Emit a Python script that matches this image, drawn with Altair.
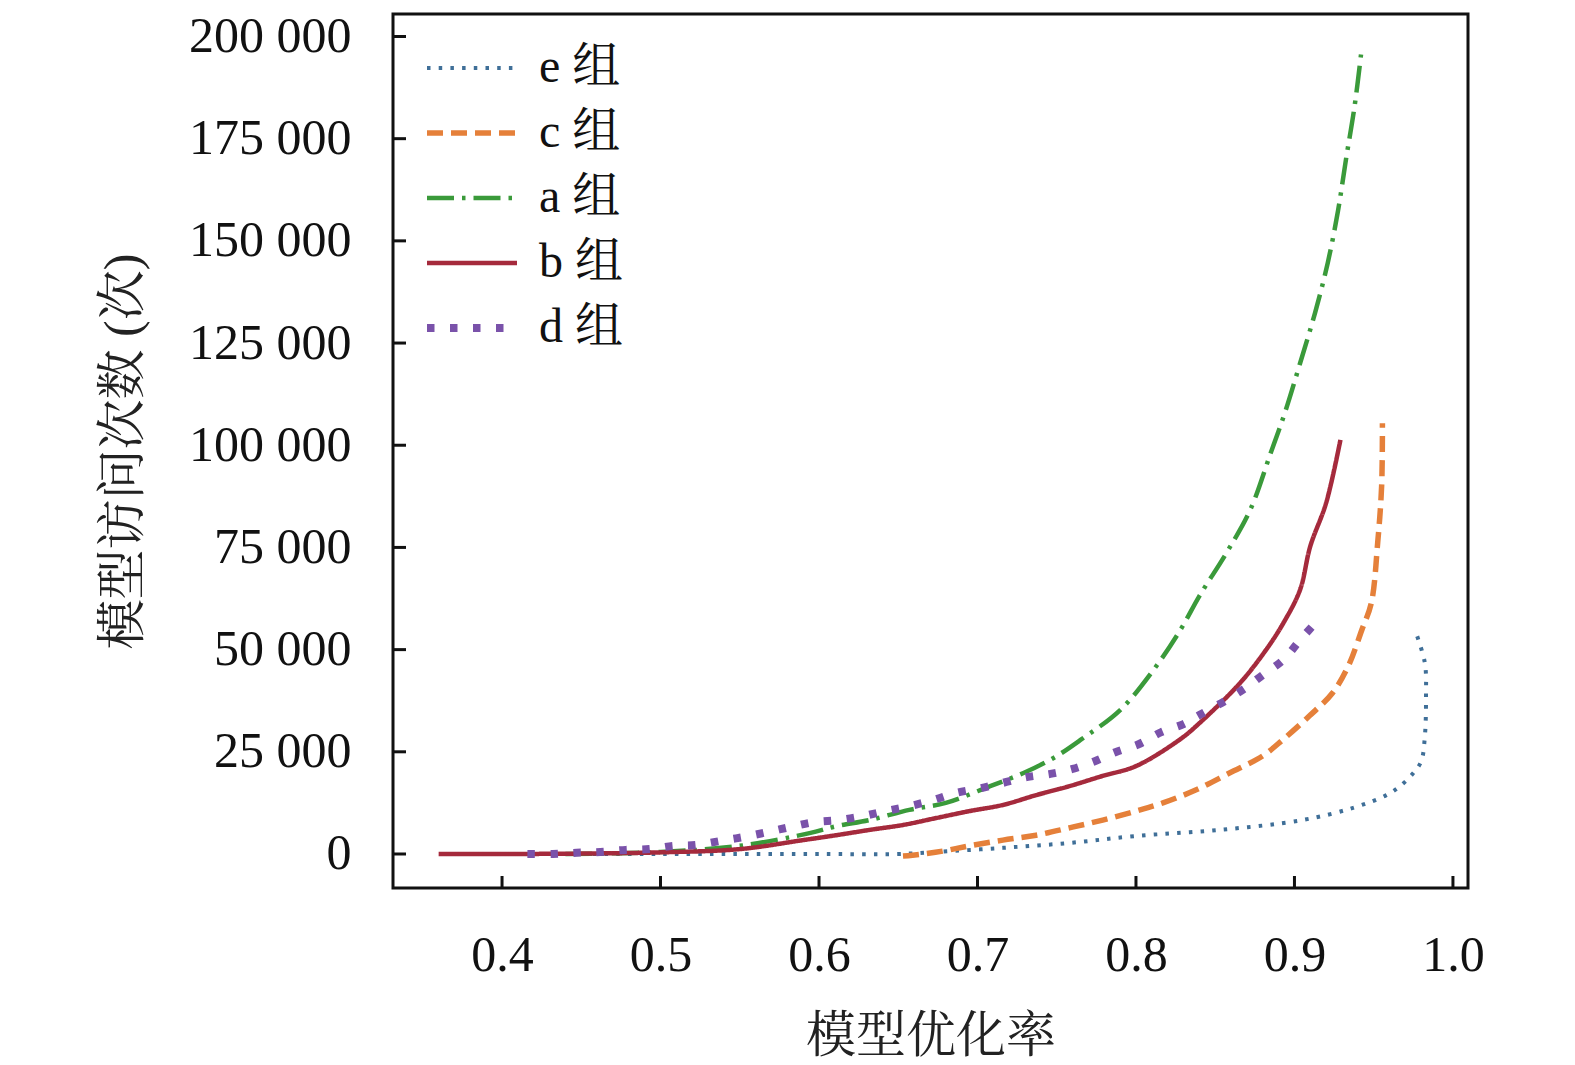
import altair as alt
import pandas as pd

groups = ["e 组", "c 组", "a 组", "b 组", "d 组"]
colors = ["#3f6f98", "#e5803a", "#3a9a3a", "#a52a3c", "#7a52aa"]
dashes = [[3.5, 8.2], [16, 8], [27, 8, 3.5, 8], [1, 0], [7.5, 15.5]]
widths = [4, 5.5, 4.5, 4.5, 8]

e_x = [0.45, 0.50, 0.55, 0.60, 0.65, 0.674, 0.716, 0.758, 0.800, 0.853, 0.905, 0.937, 0.958, 0.9666, 0.975, 0.980, 0.9823, 0.983, 0.9823, 0.9767]
e_y = [0, 0, 0, 0, 0, 500, 1500, 2700, 4400, 5900, 8300, 11300, 14400, 16600, 19800, 22700, 28900, 38600, 46700, 54100]

c_x = [0.653, 0.659, 0.678, 0.695, 0.716, 0.737, 0.758, 0.779, 0.800, 0.817, 0.838, 0.859, 0.880, 0.8925, 0.9095, 0.924, 0.934, 0.9425, 0.9485, 0.9525, 0.955, 0.9555]
c_y = [-500, -300, 700, 2000, 3400, 4600, 6400, 8300, 10500, 12500, 15700, 19800, 24000, 27900, 33800, 39400, 46000, 54800, 61400, 76100, 90000, 105400]

a_x = [0.44, 0.50, 0.55, 0.594, 0.611, 0.632, 0.657, 0.680, 0.708, 0.729, 0.748, 0.765, 0.790, 0.811, 0.828, 0.840, 0.857, 0.872, 0.885, 0.894, 0.9035, 0.913, 0.921, 0.9275, 0.9325, 0.938, 0.942]
a_y = [0, 500, 2000, 5100, 6800, 8300, 10800, 12500, 16600, 19800, 23500, 27900, 35200, 45000, 54800, 63100, 73600, 84100, 98100, 108000, 120000, 132400, 144600, 157400, 169900, 183100, 195600]

b_x = [0.36, 0.40, 0.45, 0.50, 0.55, 0.590, 0.611, 0.632, 0.653, 0.674, 0.695, 0.716, 0.737, 0.758, 0.779, 0.800, 0.828, 0.840, 0.8656, 0.882, 0.893, 0.9035, 0.910, 0.920, 0.929]
b_y = [0, 0, 100, 400, 1200, 3400, 4600, 5900, 7100, 8800, 10500, 12000, 14400, 16600, 19100, 21500, 28100, 32000, 41800, 49900, 56500, 64600, 75300, 85900, 101300]

d_x = [0.416, 0.432, 0.447, 0.462, 0.478, 0.493, 0.508, 0.522, 0.538, 0.553, 0.568, 0.582, 0.597, 0.612, 0.628, 0.642, 0.657, 0.672, 0.686, 0.702, 0.716, 0.731, 0.746, 0.760, 0.774, 0.787, 0.802, 0.816, 0.830, 0.840, 0.856, 0.869, 0.880, 0.893, 0.903, 0.912]
d_y = [0, 0, 300, 500, 1000, 1200, 2000, 2200, 3200, 4200, 5400, 6600, 7800, 8300, 9300, 10500, 11700, 13200, 14900, 16100, 17400, 18800, 19600, 20800, 22700, 24900, 26900, 29800, 31800, 34000, 37400, 40600, 43800, 47500, 52100, 56000]

x_ticks = [0.4, 0.5, 0.6, 0.7, 0.8, 0.9, 1.0]
y_ticks = [0, 25000, 50000, 75000, 100000, 125000, 150000, 175000, 200000]

series = {"e 组": (e_x, e_y), "c 组": (c_x, c_y), "a 组": (a_x, a_y), "b 组": (b_x, b_y), "d 组": (d_x, d_y)}
rows = []
for g, (xs, ys) in series.items():
    for i, (xv, yv) in enumerate(zip(xs, ys)):
        rows.append({"group": g, "x": xv, "y": yv, "idx": i})
df = pd.DataFrame(rows)

W, H = 1075, 874
FONT = "Liberation Serif, Noto Serif CJK SC, Noto Sans CJK SC"

xscale = alt.Scale(domain=[0.3312, 1.0095], nice=False, zero=False)
yscale = alt.Scale(domain=[-8320, 205500], nice=False, zero=False)

xaxis = alt.Axis(values=x_ticks, format=".1f", title="模型优化率",
                 ticks=False, domain=False, grid=False, labelPadding=42, titlePadding=31)
yaxis = alt.Axis(values=y_ticks, title="模型访问次数 (次)",
                 labelExpr="replace(format(datum.value, ','), ',', ' ')",
                 ticks=False, domain=False, grid=False, labelPadding=42, titlePadding=45)

lines = alt.Chart(df).mark_line(interpolate="catmull-rom").encode(
    x=alt.X("x:Q", scale=xscale, axis=xaxis),
    y=alt.Y("y:Q", scale=yscale, axis=yaxis),
    color=alt.Color("group:N", scale=alt.Scale(domain=groups, range=colors), legend=alt.Legend(title=None)),
    strokeDash=alt.StrokeDash("group:N", scale=alt.Scale(domain=groups, range=dashes), legend=alt.Legend(title=None)),
    strokeWidth=alt.StrokeWidth("group:N", scale=alt.Scale(type="ordinal", domain=groups, range=widths), legend=alt.Legend(title=None)),
    order="idx:Q",
)

ytick = alt.Chart(pd.DataFrame({"y": y_ticks})).mark_rule(color="#111", strokeWidth=3).encode(
    y=alt.Y("y:Q", scale=yscale, axis=yaxis), x=alt.value(0), x2=alt.value(13))
xtick = alt.Chart(pd.DataFrame({"x": x_ticks})).mark_rule(color="#111", strokeWidth=3).encode(
    x=alt.X("x:Q", scale=xscale, axis=xaxis), y=alt.value(H), y2=alt.value(H - 12))

chart = alt.layer(lines, ytick, xtick).properties(
    width=W, height=H, padding={"left": 90, "top": 3, "right": 5, "bottom": 5}
).configure_view(stroke="#111", strokeWidth=3).configure_axis(
    labelFont=FONT, titleFont=FONT, labelFontSize=50, titleFontSize=50,
    labelColor="#111", titleColor="#222", titleFontWeight="normal"
).configure_legend(
    orient="none", legendX=55, legendY=30, symbolType="M-3,0H3", symbolSize=900,
    labelFont=FONT, labelFontSize=48, labelColor="#111", labelOffset=43, rowPadding=17,
    padding=0, symbolOpacity=1
)

chart.save("out.html", embed_options={"renderer": "svg", "actions": False})
